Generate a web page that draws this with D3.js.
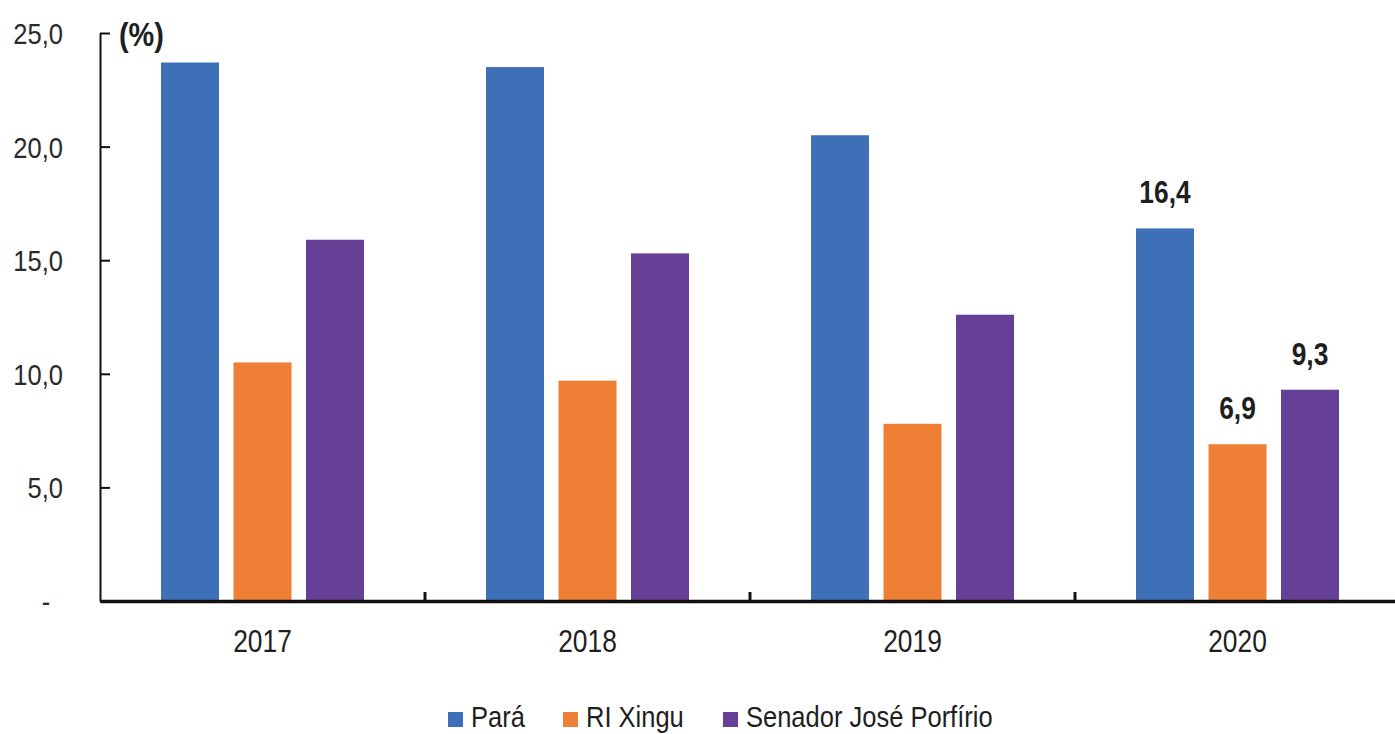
<!DOCTYPE html>
<html>
<head>
<meta charset="utf-8">
<script src="https://cdn.jsdelivr.net/npm/d3@7"></script>
<style>
  body { margin: 0; background: #fff; }
  svg { display: block; }
  text { font-family: "Liberation Sans Narrow", "Arial Narrow", "Liberation Sans", sans-serif; fill: #1e1e1e; }
</style>
</head>
<body>
<svg width="1395" height="734"></svg>
<script>
const years = ["2017", "2018", "2019", "2020"];
const series = ["Pará", "RI Xingu", "Senador José Porfírio"];
const para = [23.7, 23.5, 20.5, 16.4];
const riXingu = [10.5, 9.7, 7.8, 6.9];
const senador = [15.9, 15.3, 12.6, 9.3];
const yTicks = [0, 5, 10, 15, 20, 25];
const labelledYears = ["2020"];
const colors = ["#3e70b8", "#ee7f35", "#664096"];

const values = [para, riXingu, senador];
const rows = years.map((yr, i) => ({ year: yr, vals: series.map((s, j) => ({ key: s, value: values[j][i] })) }));

const svg = d3.select("svg");
const fmt = v => v === 0 ? "-" : v.toFixed(1).replace(".", ",");

const x0 = d3.scaleBand().domain(years).range([100, 1400]).padding(0);
const x1 = d3.scaleBand().domain(series).range([61, 264]).paddingInner(0.2);
const y = d3.scaleLinear().domain([0, 25]).range([601, 33]);

// bars
const groups = svg.append("g").selectAll("g")
  .data(rows).enter().append("g")
  .attr("transform", d => `translate(${x0(d.year)},0)`);

groups.selectAll("rect")
  .data(d => d.vals).enter().append("rect")
  .attr("x", d => x1(d.key))
  .attr("width", x1.bandwidth())
  .attr("y", d => y(d.value))
  .attr("height", d => y(0) - y(d.value))
  .attr("fill", (d, i) => colors[i]);

// value labels (only last year)
groups.filter(d => labelledYears.includes(d.year))
  .selectAll("text.val")
  .data(d => d.vals).enter().append("text")
  .attr("class", "val")
  .attr("x", d => x1(d.key) + x1.bandwidth() / 2)
  .attr("y", d => y(d.value) - 25)
  .attr("text-anchor", "middle")
  .attr("font-size", 31)
  .attr("font-weight", "bold")
  .text(d => fmt(d.value));

// y axis
const yAxis = svg.append("g")
  .attr("transform", "translate(100,0)")
  .call(d3.axisLeft(y).tickValues(yTicks).tickSizeInner(-10).tickSizeOuter(0).tickFormat(fmt));
yAxis.select(".domain").attr("stroke", "#111").attr("stroke-width", 2);
yAxis.selectAll(".tick line").attr("stroke", "#111").attr("stroke-width", 2);
yAxis.selectAll(".tick text")
  .attr("x", d => d === 0 ? -54 : -37)
  .attr("text-anchor", d => d === 0 ? "middle" : "end")
  .attr("dy", "0.35em")
  .attr("font-size", 30)
  .attr("font-family", null)
  .style("fill", "#2a2a2a");

// x axis
const xAxis = svg.append("g")
  .attr("transform", `translate(0,${y(0)})`)
  .call(d3.axisBottom(x0).tickSize(0).tickPadding(29));
xAxis.select(".domain").attr("stroke", "#111").attr("stroke-width", 3.5);
xAxis.selectAll(".tick text")
  .attr("font-size", 31)
  .attr("font-family", null)
  .style("fill", "#1e1e1e");

// boundary ticks between years
xAxis.selectAll("line.sep")
  .data(years.slice(1)).enter().append("line")
  .attr("class", "sep")
  .attr("x1", d => x0(d)).attr("x2", d => x0(d))
  .attr("y1", 0).attr("y2", -9)
  .attr("stroke", "#111").attr("stroke-width", 3);

// unit label
svg.append("text")
  .attr("x", 119).attr("y", 46)
  .attr("font-size", 34)
  .attr("font-weight", "bold")
  .text("(%)");

// legend
const legendX = [448, 563, 723];
const legend = svg.append("g").selectAll("g")
  .data(series).enter().append("g")
  .attr("transform", (d, i) => `translate(${legendX[i]},0)`);
legend.append("rect")
  .attr("x", 0).attr("y", 712)
  .attr("width", 15).attr("height", 15)
  .attr("fill", (d, i) => colors[i]);
legend.append("text")
  .attr("x", 23).attr("y", 727)
  .attr("font-size", 30)
  .text(d => d);

// narrow the glyphs (Arial Narrow look)
svg.selectAll("text").each(function () {
  const w = this.getComputedTextLength();
  d3.select(this).attr("textLength", w * 0.85).attr("lengthAdjust", "spacingAndGlyphs");
});
</script>
</body>
</html>
